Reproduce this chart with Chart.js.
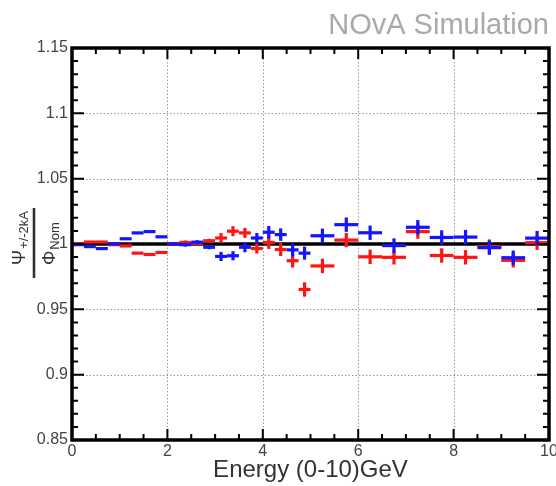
<!DOCTYPE html>
<html><head><meta charset="utf-8">
<script src="https://cdn.jsdelivr.net/npm/chart.js@4/dist/chart.umd.min.js"></script>
<style>html,body{margin:0;padding:0;background:#fff;overflow:hidden}#wrap{width:556px;height:486px;position:relative}</style>
</head><body><div id="wrap"><canvas id="c" width="556" height="486"></canvas></div>
<script>
// ---- data ----
const binEdges = [0,0.25,0.5,0.75,1,1.25,1.5,1.75,2,2.25,2.5,2.75,3,3.25,3.5,3.75,4,4.25,4.5,4.75,5,5.5,6,6.5,7,7.5,8,8.5,9,9.5,10];
const blueValues = [0.9995,0.998,0.9965,1.0,1.004,1.0085,1.0095,1.0055,1.0,0.9995,1.0014,0.9975,0.9905,0.991,0.9975,1.0046,1.009,1.0072,0.9955,0.993,1.0063,1.0148,1.0086,0.9988,1.0128,1.005,1.0053,0.9972,0.9895,1.0045];
const redValues  = [1.0,1.0015,1.0015,0.9995,0.9985,0.993,0.992,0.9935,1.0,1.0012,1.0005,1.0025,1.0046,1.0098,1.0085,0.9965,1.0012,0.9958,0.9872,0.9652,0.9832,1.003,0.9902,0.9898,1.0095,0.9912,0.9898,0.998,0.9875,1.001];
const blueErrors = [0.0005,0.0005,0.0005,0.0005,0.001,0.001,0.001,0.001,0.0015,0.0015,0.0015,0.0015,0.0035,0.0035,0.0038,0.0038,0.0048,0.0048,0.005,0.005,0.0055,0.0055,0.0055,0.0055,0.0055,0.0055,0.0055,0.0055,0.0055,0.0055];
const redErrors  = [0.0005,0.0005,0.0005,0.0005,0.001,0.001,0.001,0.001,0.0015,0.0015,0.0015,0.0015,0.0038,0.0038,0.0038,0.0038,0.005,0.005,0.0052,0.0055,0.0055,0.0055,0.0055,0.0055,0.0055,0.0055,0.0055,0.0055,0.0055,0.0055];
const referenceValue = 1.0;
const xTickValues = [0,2,4,6,8,10];
const xTickLabels = ['0','2','4','6','8','10'];
const yTickValues = [0.85,0.9,0.95,1.0,1.05,1.1,1.15];
const yTickLabels = ['0.85','0.9','0.95','1','1.05','1.1','1.15'];
const xMinorStep = 0.5, yMinorStep = 0.01;
const xTitle = 'Energy (0-10)GeV';
const watermark = 'NOvA Simulation';

const FONT = '"Liberation Sans", Arial, Helvetica, sans-serif';
const BLUE = '#1414ff', RED = '#ff1414';

const centers = binEdges.slice(0,-1).map((e,i)=>(e+binEdges[i+1])/2);

const custom = {
  id:'custom',
  beforeDatasetsDraw(chart){
    const {ctx, chartArea:a, scales:{x,y}} = chart;
    ctx.save();
    ctx.strokeStyle = '#999'; ctx.lineWidth = 1; ctx.setLineDash([1.5,2]);
    xTickValues.slice(1,-1).forEach(v=>{const p=Math.round(x.getPixelForValue(v))+0.5;ctx.beginPath();ctx.moveTo(p,a.top);ctx.lineTo(p,a.bottom);ctx.stroke();});
    yTickValues.slice(1,-1).forEach(v=>{const p=Math.round(y.getPixelForValue(v))+0.5;ctx.beginPath();ctx.moveTo(a.left,p);ctx.lineTo(a.right,p);ctx.stroke();});
    ctx.setLineDash([]);
    // reference line
    ctx.strokeStyle='#000'; ctx.lineWidth=3.5;
    const yr=y.getPixelForValue(referenceValue);
    ctx.beginPath();ctx.moveTo(x.getPixelForValue(binEdges[0]),yr);ctx.lineTo(x.getPixelForValue(binEdges[binEdges.length-1]),yr);ctx.stroke();
    const series=(vals,errs,col)=>{
      ctx.strokeStyle=col; ctx.lineWidth=3.2; ctx.lineCap='butt';
      vals.forEach((v,i)=>{
        const x0=x.getPixelForValue(binEdges[i]), x1=x.getPixelForValue(binEdges[i+1]);
        const py=y.getPixelForValue(v), xc=x.getPixelForValue(centers[i]);
        ctx.beginPath();ctx.moveTo(x0,py);ctx.lineTo(x1,py);ctx.stroke();
        const e0=y.getPixelForValue(v-errs[i]), e1=y.getPixelForValue(v+errs[i]);
        if(Math.abs(e0-e1)>3){ctx.beginPath();ctx.moveTo(xc,e0);ctx.lineTo(xc,e1);ctx.stroke();}
      });
    };
    series(redValues,redErrors,RED);
    series(blueValues,blueErrors,BLUE);
    ctx.restore();
  },
  afterDraw(chart){
    const {ctx, chartArea:a, scales:{x,y}} = chart;
    ctx.save();
    // inward ticks
    ctx.strokeStyle='#000'; ctx.lineWidth=2;
    for(let k=0;k<=Math.round((x.max-x.min)/xMinorStep);k++){
      const v=x.min+k*xMinorStep, p=x.getPixelForValue(v);
      const major = xTickValues.some(t=>Math.abs(t-v)<1e-9);
      const L = major?11:6;
      ctx.beginPath();ctx.moveTo(p,a.bottom);ctx.lineTo(p,a.bottom-L);ctx.moveTo(p,a.top);ctx.lineTo(p,a.top+L);ctx.stroke();
    }
    for(let k=0;k<=Math.round((y.max-y.min)/yMinorStep);k++){
      const v=y.min+k*yMinorStep, p=y.getPixelForValue(v);
      const major = yTickValues.some(t=>Math.abs(t-v)<1e-9);
      const L = major?12:6;
      ctx.beginPath();ctx.moveTo(a.left,p);ctx.lineTo(a.left+L,p);ctx.moveTo(a.right,p);ctx.lineTo(a.right-L,p);ctx.stroke();
    }
    // frame
    ctx.lineWidth=3.5; ctx.strokeRect(a.left,a.top,a.right-a.left,a.bottom-a.top);
    // watermark
    ctx.fillStyle='#a9a9a9'; ctx.font='29px '+FONT; ctx.textAlign='right'; ctx.textBaseline='alphabetic';
    ctx.fillText(watermark, 549, 34);
    // x title
    ctx.fillStyle='#333'; ctx.font='24px '+FONT; ctx.textAlign='center'; ctx.textBaseline='middle';
    ctx.fillText(xTitle,(a.left+a.right)/2,470);
    // y title (fraction)
    ctx.translate(34,243); ctx.rotate(-Math.PI/2);
    ctx.fillStyle='#333';
    ctx.fillRect(-35,-1.3,70,2.6);
    ctx.textAlign='left'; ctx.textBaseline='alphabetic';
    ctx.font='18px '+FONT; ctx.fillText('\u03A8',-22,-9);
    let w=ctx.measureText('\u03A8').width;
    ctx.font='13px '+FONT; ctx.fillText('+/-2kA',-22+w+1,-6);
    ctx.font='18px '+FONT; ctx.fillText('\u03A6',-22,21);
    w=ctx.measureText('\u03A6').width;
    ctx.font='13px '+FONT; ctx.fillText('Nom',-22+w+1,25);
    ctx.restore();
  }
};

new Chart(document.getElementById('c'),{
  type:'scatter',
  data:{datasets:[
    {label:'red',data:centers.map((c,i)=>({x:c,y:redValues[i]})),pointRadius:0,showLine:false,borderColor:RED},
    {label:'blue',data:centers.map((c,i)=>({x:c,y:blueValues[i]})),pointRadius:0,showLine:false,borderColor:BLUE}
  ]},
  options:{
    responsive:false, animation:false, devicePixelRatio:1,
    layout:{padding:{top:48,right:7,left:0,bottom:0}},
    plugins:{legend:{display:false},tooltip:{enabled:false}},
    scales:{
      x:{type:'linear',min:0,max:10,
        afterBuildTicks:s=>{s.ticks=xTickValues.map(v=>({value:v}));},
        afterFit:s=>{s.height=46;s.paddingLeft=0;s.paddingRight=0;},
        ticks:{callback:(v,i)=>xTickLabels[i],font:{family:FONT,size:16},color:'#444',padding:2,maxRotation:0,autoSkip:false},
        grid:{display:false,drawTicks:false},border:{display:false}},
      y:{type:'linear',min:0.85,max:1.15,
        afterBuildTicks:s=>{s.ticks=yTickValues.map(v=>({value:v}));},
        afterFit:s=>{s.width=72;s.paddingTop=0;s.paddingBottom=0;},
        ticks:{callback:(v,i)=>yTickLabels[i],font:{family:FONT,size:16},color:'#444',padding:4,autoSkip:false},
        grid:{display:false,drawTicks:false},border:{display:false}}
    }
  },
  plugins:[custom]
});
</script></body></html>
